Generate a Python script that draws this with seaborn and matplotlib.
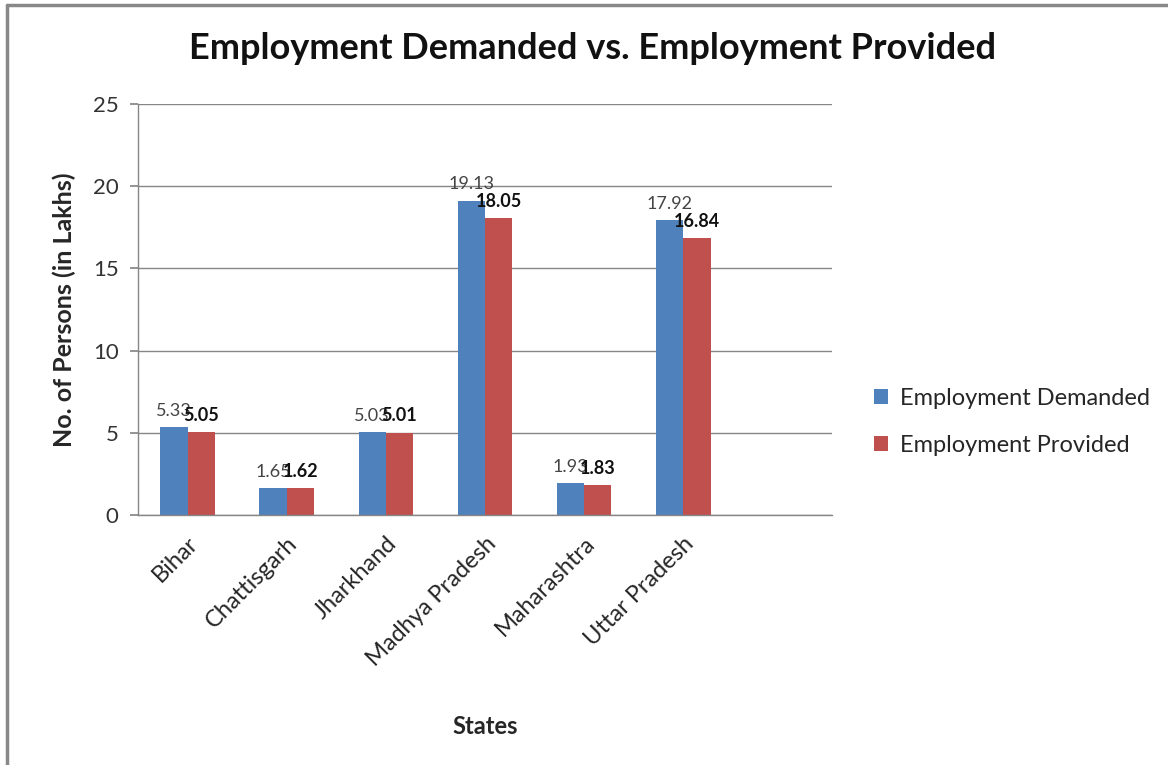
import matplotlib
matplotlib.use("Agg")
import matplotlib.pyplot as plt
import seaborn as sns
import pandas as pd
from matplotlib.lines import Line2D

states = ["Bihar", "Chattisgarh", "Jharkhand", "Madhya Pradesh", "Maharashtra", "Uttar Pradesh"]
demanded = [5.33, 1.65, 5.03, 19.13, 1.93, 17.92]
provided = [5.05, 1.62, 5.01, 18.05, 1.83, 16.84]
series = ["Employment Demanded", "Employment Provided"]
colors = ["#4F81BD", "#C0504D"]
yticks = [0, 5, 10, 15, 20, 25]

df = pd.DataFrame({
    "State": states * 2,
    "Value": demanded + provided,
    "Series": [series[0]] * len(states) + [series[1]] * len(states),
})

sns.set_theme(style="white")
plt.rcParams["font.family"] = ["Lato", "DejaVu Sans"]

fig = plt.figure(figsize=(11.68, 7.65), dpi=100)
ax = fig.add_axes([138 / 1168, 1 - 515 / 765, (832 - 138) / 1168, (515 - 104) / 765])

sns.barplot(data=df, x="State", y="Value", hue="Series", order=states,
            hue_order=series, palette=colors, width=0.55, saturation=1,
            errorbar=None, ax=ax, linewidth=0)

ax.set_xlim(-0.5, 6.5)
ax.set_ylim(0, 25)
ax.set_yticks(yticks)
ax.yaxis.grid(True, color="#868686", linewidth=1)
ax.set_axisbelow(True)
for s in ["top", "right"]:
    ax.spines[s].set_visible(False)
for s in ["left", "bottom"]:
    ax.spines[s].set_color("#868686")
    ax.spines[s].set_linewidth(1)

ax.tick_params(axis="y", which="both", left=True, length=6, color="#868686",
               labelsize=16, labelcolor="#333333", pad=8)
ax.tick_params(axis="x", length=0, labelsize=17, pad=13)
ax.set_xticks(range(len(states)))
ax.set_xticklabels(states, rotation=45, ha="right", rotation_mode="anchor")

for cont, fw, col in zip(ax.containers, ["normal", "bold"], ["#444444", "#111111"]):
    ax.bar_label(cont, labels=[f"{v:.2f}" for v in cont.datavalues], padding=6,
                 fontsize=13, fontweight=fw, color=col)

ax.set_xlabel("States", fontsize=17, fontweight="bold", labelpad=32)
ax.set_ylabel("No. of Persons (in Lakhs)", fontsize=18, fontweight="bold", labelpad=12)

leg = ax.legend(loc="center left", bbox_to_anchor=(1.03, 0.226), frameon=False,
                fontsize=17, labelspacing=1.1, handlelength=0.6, handleheight=0.6,
                handletextpad=0.5)

fig.text(0.507, 0.937, "Employment Demanded vs. Employment Provided", ha="center",
         va="center", fontsize=26, fontweight="bold", color="#111111")

# outer frame (left and top edges)
fig.add_artist(Line2D([7 / 1168, 7 / 1168], [0, 1 - 5 / 765], transform=fig.transFigure,
                      color="#888888", linewidth=2.5))
fig.add_artist(Line2D([7 / 1168, 1], [1 - 5 / 765, 1 - 5 / 765], transform=fig.transFigure,
                      color="#888888", linewidth=2.5))

fig.savefig("out.png", dpi=100)
